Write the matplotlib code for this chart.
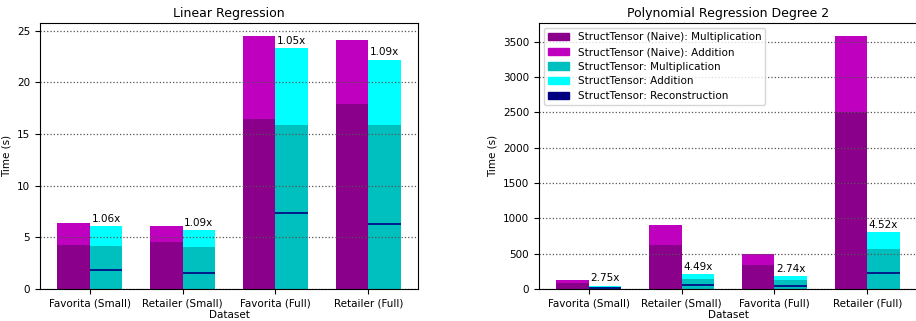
import numpy as np
import matplotlib
matplotlib.use("Agg")
import matplotlib.pyplot as plt
from matplotlib.patches import Patch

plt.rcParams['font.size'] = 7.5

datasets = ['Favorita (Small)', 'Retailer (Small)', 'Favorita (Full)', 'Retailer (Full)']

# Linear regression (seconds)
lin_naive_mult = [4.22, 4.52, 16.41, 17.86]
lin_naive_add = [2.13, 1.61, 8.11, 6.26]
lin_st_mult = [4.13, 4.03, 15.83, 15.83]
lin_st_add = [1.93, 1.65, 7.45, 6.38]
lin_st_recon = [1.87, 1.58, 7.39, 6.32]
lin_speedup = ['1.06x', '1.09x', '1.05x', '1.09x']

# Polynomial regression degree 2 (seconds)
poly_naive_mult = [80, 617, 335, 2501]
poly_naive_add = [43, 283, 155, 1084]
poly_st_mult = [28, 137, 123, 561]
poly_st_add = [14, 71, 57, 240]
poly_st_recon = [18, 62, 48, 232]
poly_speedup = ['2.75x', '4.49x', '2.74x', '4.52x']

c_nm = '#8b008b'
c_na = '#bf00bf'
c_sm = '#00bfbf'
c_sa = '#00ffff'
c_rc = '#000080'

fig = plt.figure(figsize=(9.16, 3.21), dpi=100)
ax1 = fig.add_axes([40/916, 32/321, 378/916, 266/321])
ax2 = fig.add_axes([539/916, 32/321, 378/916, 266/321])

w = 0.35
x = np.arange(len(datasets))


def draw(ax, nm, na, sm, sa, rc, sp, title):
    nm, na, sm, sa, rc = map(np.array, (nm, na, sm, sa, rc))
    ax.bar(x - w/2, nm, w, color=c_nm)
    ax.bar(x - w/2, na, w, bottom=nm, color=c_na)
    ax.bar(x + w/2, sm, w, color=c_sm)
    ax.bar(x + w/2, sa, w, bottom=sm, color=c_sa)
    ax.hlines(rc, x, x + w, color=c_rc, linewidth=1.2, zorder=2)
    for xi, top, lab in zip(x, sm + sa, sp):
        ax.annotate(lab, (xi + w/2, top), xytext=(0, 2), textcoords='offset points',
                    ha='center', va='bottom')
    ax.set_xticks(x)
    ax.set_xticklabels(datasets)
    ax.set_xlabel('Dataset', labelpad=1)
    ax.set_ylabel('Time (s)')
    ax.set_title(title, fontsize=9, pad=4)
    ax.grid(axis='y', linestyle=':', color='#555555', linewidth=0.9)


draw(ax1, lin_naive_mult, lin_naive_add, lin_st_mult, lin_st_add, lin_st_recon,
     lin_speedup, 'Linear Regression')
draw(ax2, poly_naive_mult, poly_naive_add, poly_st_mult, poly_st_add, poly_st_recon,
     poly_speedup, 'Polynomial Regression Degree 2')

handles = [Patch(color=c_nm, label='StructTensor (Naive): Multiplication'),
           Patch(color=c_na, label='StructTensor (Naive): Addition'),
           Patch(color=c_sm, label='StructTensor: Multiplication'),
           Patch(color=c_sa, label='StructTensor: Addition'),
           Patch(color=c_rc, label='StructTensor: Reconstruction')]
ax2.legend(handles=handles, loc='upper left', labelspacing=0.45)

fig.savefig('out.png', dpi=100)
